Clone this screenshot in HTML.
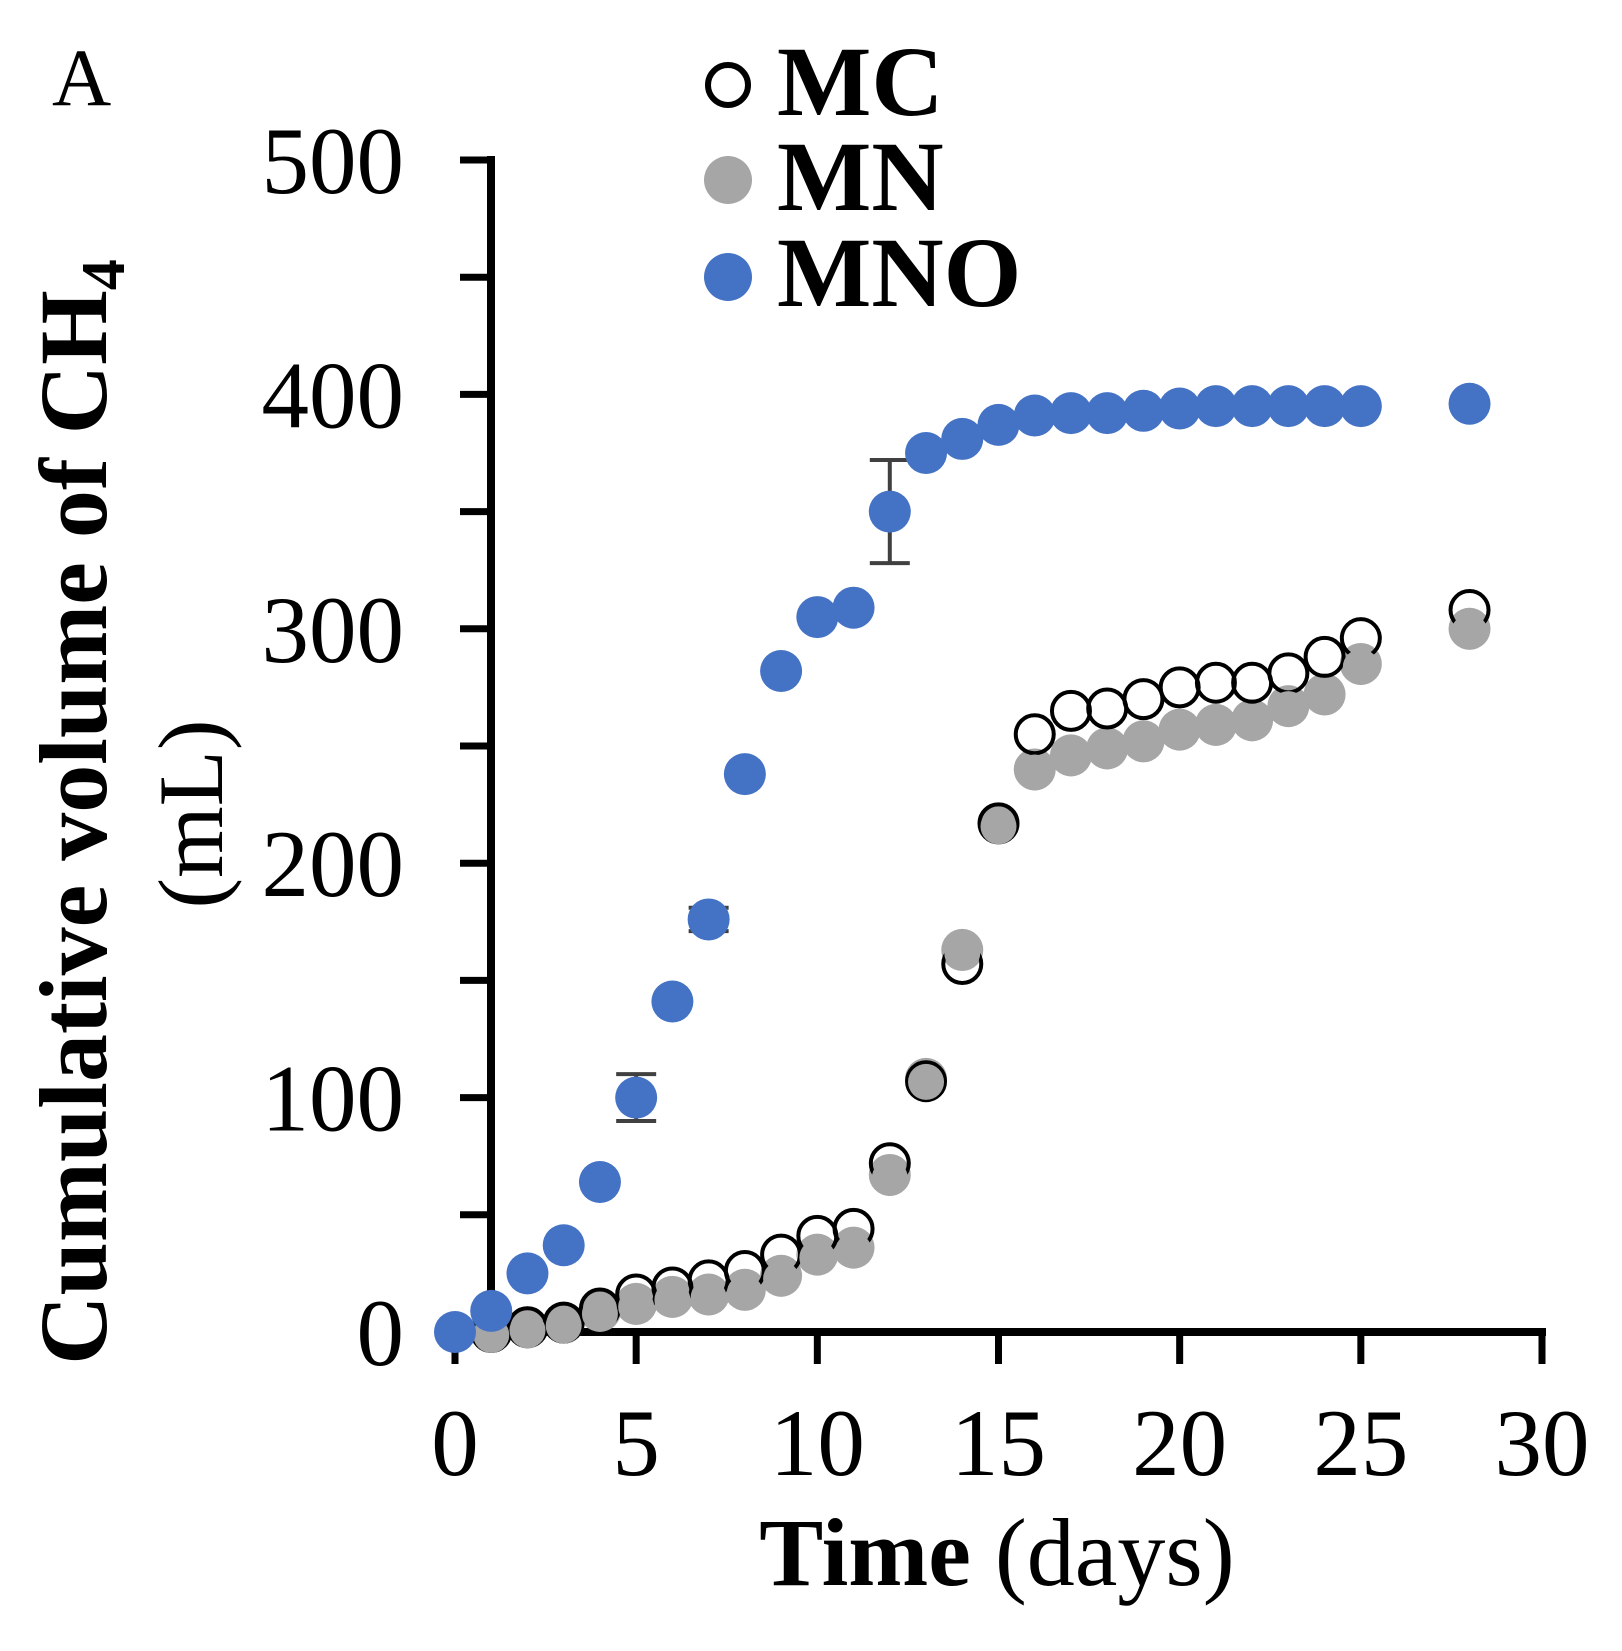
<!DOCTYPE html>
<html><head><meta charset="utf-8">
<style>html,body{margin:0;padding:0;background:#fff}svg{display:block}text{font-family:"Liberation Serif",serif}</style>
</head><body>
<svg id="chart" width="1622" height="1651" viewBox="0 0 1622 1651" xmlns="http://www.w3.org/2000/svg">
<text x="52" y="105" font-size="82">A</text>
<g id="axes"></g>
<g id="marks"></g>
<text transform="translate(106,812) rotate(-90)" text-anchor="middle" font-size="96" font-weight="bold">Cumulative volume of CH<tspan font-size="62" dy="18">4</tspan></text>
<text transform="translate(222,814) rotate(-90)" text-anchor="middle" font-size="92">(mL)</text>
<text x="997" y="1585" text-anchor="middle" font-size="96"><tspan font-weight="bold">Time</tspan> (days)</text>
<g>
<circle cx="728" cy="85" r="20" fill="#fff" stroke="#000" stroke-width="6"/>
<text x="777" y="115" font-size="100" font-weight="bold">MC</text>
<circle cx="728" cy="180" r="24" fill="#a6a6a6"/>
<text x="777" y="210" font-size="100" font-weight="bold">MN</text>
<circle cx="728" cy="277" r="24" fill="#4472c4"/>
<text x="777" y="306" font-size="100" font-weight="bold">MNO</text>
</g>
</svg>
<script>
const days = [0,1,2,3,4,5,6,7,8,9,10,11,12,13,14,15,16,17,18,19,20,21,22,23,24,25,28];
const mnoValues = [0,9,25,37,64,100,141,176,238,282,305,309,350,375,381,387,391,392,392,393,394,395,395,395,395,395,396];
const mcDays = [1,2,3,4,5,6,7,8,9,10,11,12,13,14,15,16,17,18,19,20,21,22,23,24,25,28];
const mcValues = [0,2,4,10,16,19,22,26,33,41,44,72,107,157,217,255,265,266,270,275,277,277,281,288,296,308];
const mnValues = [0,2,4,9,12,15,16,18,24,33,36,67,108,163,217,240,246,249,252,257,259,261,267,272,285,300];
const errDays = [5,7,12];
const errValues = [10,5,22];
const errMeans = [100,176,350];
const xTicks = [0,5,10,15,20,25,30];
const yTicks = [0,50,100,150,200,250,300,350,400,450,500];
const yLabels = [0,100,200,300,400,500];

const NS = "http://www.w3.org/2000/svg";
function xs(d){ return 455 + d*(1542-455)/30; }
function ys(v){ return 1332 - v*(1332-160)/500; }
function mk(tag, attrs, parent){ const e=document.createElementNS(NS,tag); for(const k in attrs) e.setAttribute(k,attrs[k]); parent.appendChild(e); return e; }
const axes=document.getElementById('axes'), marks=document.getElementById('marks');

let yl = mk('line',{x1:491,y1:156,x2:491,y2:1336,stroke:'#000','stroke-width':8},axes);


let xl = mk('line',{x1:487,y1:1332,x2:1546,y2:1332,stroke:'#000','stroke-width':8},axes);


yTicks.forEach(v=>{
  const t=mk('line',{x1:460,y1:ys(v),x2:491,y2:ys(v),stroke:'#000','stroke-width':7},axes);
  
  
});
yLabels.forEach(v=>{
  const t=mk('text',{x:404,y:ys(v)+33,'text-anchor':'end','font-size':95},axes);
  t.textContent=v;
  
  
});
xTicks.forEach(d=>{
  const t=mk('line',{x1:xs(d),y1:1332,x2:xs(d),y2:1364,stroke:'#000','stroke-width':7},axes);
  
  
  const l=mk('text',{x:xs(d),y:1475,'text-anchor':'middle','font-size':95},axes);
  l.textContent=d;
  
  
});
mnValues.forEach((v,i)=>{
  const c=mk('circle',{cx:xs(mcDays[i]),cy:ys(v),r:21,fill:'#a6a6a6'},marks);
  
  
});
mcValues.forEach((v,i)=>{
  const c=mk('circle',{cx:xs(mcDays[i]),cy:ys(v),r:19,fill:'none',stroke:'#000','stroke-width':4},marks);
  
  
});
mnValues.forEach((v,i)=>{
  const c=mk('circle',{cx:xs(mcDays[i]),cy:ys(v)+3,r:18,fill:'#a6a6a6'},marks);
  
  
});
errDays.forEach((d,i)=>{
  const x=xs(d), y1=ys(errMeans[i]+errValues[i]), y2=ys(errMeans[i]-errValues[i]);
  const p=mk('path',{d:`M${x},${y1}V${y2}M${x-20},${y1}H${x+20}M${x-20},${y2}H${x+20}`,stroke:'#404040','stroke-width':4,fill:'none'},marks);
  
  
});
mnoValues.forEach((v,i)=>{
  const c=mk('circle',{cx:xs(days[i]),cy:ys(v),r:21,fill:'#4472c4'},marks);
  
  
});
</script>
</body></html>
